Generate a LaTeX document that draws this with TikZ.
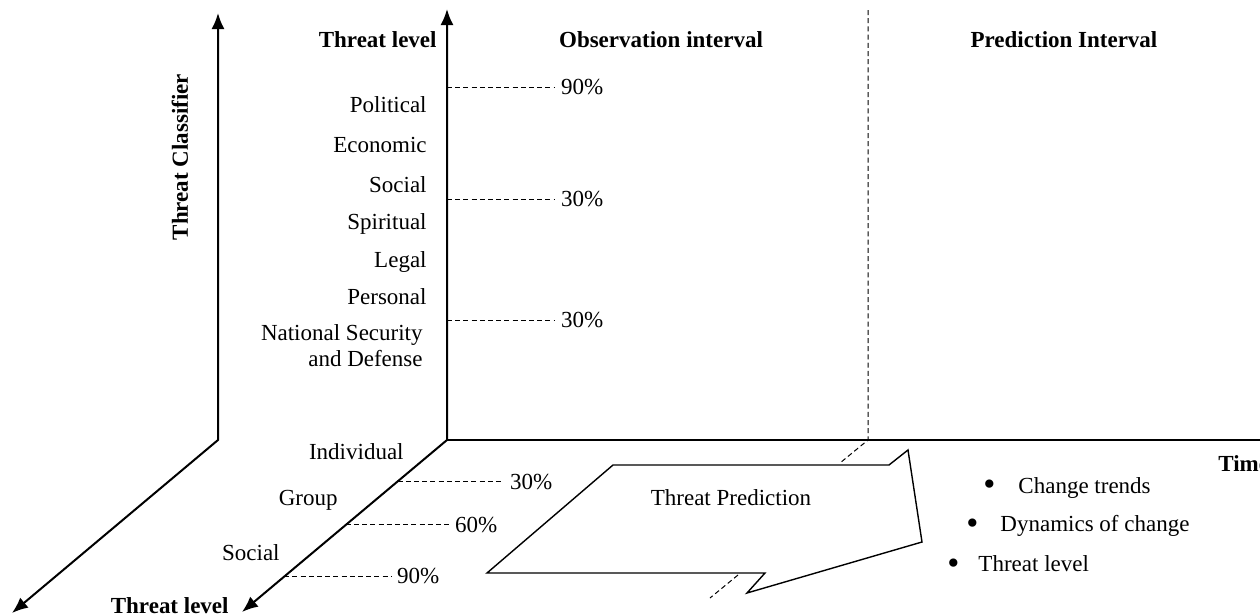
\documentclass[tikz,border=0pt]{standalone}
\usepackage{fontspec}
\usepackage{graphicx}
\setmainfont{Liberation Serif}
\usetikzlibrary{arrows.meta,calc}
\newcommand{\bigbul}{\raisebox{-1.2pt}{\scalebox{1.5}{\textbullet}}}
\begin{document}
\begin{tikzpicture}[x=0.5pt,y=-0.5pt,
  font=\fontsize{11.5}{13}\selectfont,
  axisline/.style={line width=1pt},
  axisarrow/.style={line width=1pt,{Latex[length=8pt,width=6.5pt]}-{Latex[length=8pt,width=6.5pt]}},
  tick/.style={line width=0.5pt,dash pattern=on 2.5pt off 1.6pt},
  pct/.style={inner sep=0pt,outer sep=3pt,anchor=west},
  lbl/.style={inner sep=0pt,anchor=east},
  ttl/.style={inner sep=0pt,font=\fontsize{11.5}{13}\selectfont\bfseries},
  shapeline/.style={line width=0.7pt,line join=miter}]
\useasboundingbox (0,0) rectangle (1260,616);

% left classifier axis
\coordinate (L) at (218,440);
\coordinate (Ltop) at (218,13);
\coordinate (Ldiag) at (12,613);
\draw[axisarrow] (Ltop) -- (L) -- (Ldiag);

% main axes
\coordinate (O) at (447,440);
\coordinate (Otop) at (447,9);
\coordinate (Odiag) at (242,612);
\coordinate (Oright) at (1262,440);
\draw[axisarrow] (Otop) -- (O) -- (Odiag);
\draw[axisline] (O) -- (Oright);

% divider between intervals
\coordinate (Dtop) at (868,10);
\coordinate (Dbase) at (868,440);
\coordinate (Dend) at (840,463);
\coordinate (Ds) at (738,575);
\coordinate (De) at (710,598);
\draw[tick] (Dtop) -- (Dbase) -- (Dend);
\draw[tick] (Ds) -- (De);

% titles
\node[ttl,rotate=90] (tc) at (180,157) {Threat Classifier};
\node[ttl,anchor=east] (tlv) at (437,40) {Threat level};
\node[ttl] (obs) at (661,40) {Observation interval};
\node[ttl] (pred) at (1064,40) {Prediction Interval};
\node[ttl,anchor=east] (tlb) at (229,606) {Threat level};
\node[ttl,anchor=west] (time) at (1218,464) {Time};

% vertical axis categories
\node[lbl] (pol) at (427,105) {Political};
\node[lbl] (eco) at (427,145) {Economic};
\node[lbl] (soc) at (427,185) {Social};
\node[lbl] (spi) at (427,224) {Spiritual};
\node[lbl] (leg) at (427,262) {Legal};
\node[lbl] (per) at (427,297) {Personal};
\node[lbl,align=right] (nat) at (423,346) {National Security\\and Defense};

% vertical ticks
\node[pct] (v90) at (555,87) {90\%};
\node[pct] (v30a) at (555,199) {30\%};
\node[pct] (v30b) at (555,320) {30\%};
\draw[tick] (O |- v90.west) -- (v90.west);
\draw[tick] (O |- v30a.west) -- (v30a.west);
\draw[tick] (O |- v30b.west) -- (v30b.west);

% diagonal axis categories
\node[lbl] (ind) at (404,452) {Individual};
\node[lbl] (grp) at (338,500) {Group};
\node[lbl] (sc) at (280,553) {Social};

% diagonal ticks
\coordinate (d1) at ($(O)!0.241!(Odiag)$);
\coordinate (d2) at ($(O)!0.494!(Odiag)$);
\coordinate (d3) at ($(O)!0.794!(Odiag)$);
\node[pct] (g30) at (504,482) {30\%};
\node[pct] (g60) at (449,525) {60\%};
\node[pct] (g90) at (391,576) {90\%};
\draw[tick] (d1) -- (d1 -| g30.west);
\draw[tick] (d2) -- (d2 -| g60.west);
\draw[tick] (d3) -- (d3 -| g90.west);

% prediction arrow shape
\draw[shapeline] (613,465) -- (889,465) -- (908,450) -- (922,542) -- (747,593) -- (765,573) -- (487,573) -- cycle;
\node[inner sep=0pt] (tp) at (731,498) {Threat Prediction};

% bullet list
\node[inner sep=0pt,anchor=west] (b1) at (983,488) {\bigbul\hspace{11.5pt}Change trends};
\node[inner sep=0pt,anchor=west] (b2) at (966,526) {\bigbul\hspace{11pt}Dynamics of change};
\node[inner sep=0pt,anchor=west] (b3) at (947,565) {\bigbul\hspace{9.5pt}Threat level};
\end{tikzpicture}
\end{document}
